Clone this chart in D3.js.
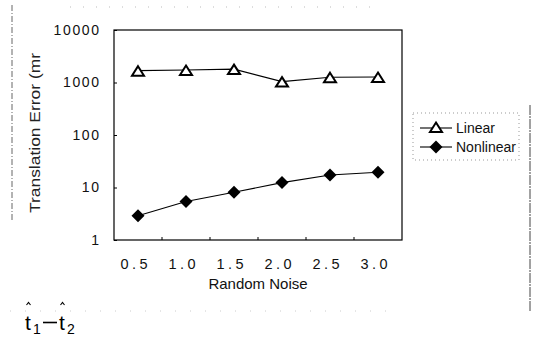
<!DOCTYPE html>
<html>
<head>
<meta charset="utf-8">
<script src="https://cdn.jsdelivr.net/npm/d3@7"></script>
<style>
  body { margin: 0; background: #fff; }
  svg { display: block; font-family: "Liberation Sans", Arial, sans-serif; }
</style>
</head>
<body>
<svg width="546" height="338"></svg>
<script>
// categories and series
var noise = ["0.5", "1.0", "1.5", "2.0", "2.5", "3.0"];
var linearErr = [1680, 1730, 1800, 1040, 1260, 1270];
var nonlinearErr = [2.9, 5.4, 8.1, 12.4, 17.3, 19.5];
var yTicks = [1, 10, 100, 1000, 10000];
var seriesNames = ["Linear", "Nonlinear"];

var svg = d3.select("svg");

// plot area
var plot = {left: 114, top: 30, right: 402, bottom: 240};

var x = d3.scaleBand().domain(noise).range([plot.left, plot.right]);
var y = d3.scaleLog().domain([1, 10000]).range([plot.bottom, plot.top]);

// markers: open triangle and filled diamond
var triPath = "M0,-5.5L6,4L-6,4Z";
var diaPath = "M0,-6.5L6.5,0L0,6.5L-6.5,0Z";

// scan artifacts from the source figure
svg.append("line").attr("x1", 12).attr("x2", 12).attr("y1", 5).attr("y2", 220)
    .attr("stroke", "#666").attr("stroke-dasharray", "6,2,1,2");
svg.append("line").attr("x1", 530).attr("x2", 530).attr("y1", 105).attr("y2", 311)
    .attr("stroke", "#444").attr("stroke-dasharray", "10,1,2,1");
svg.append("line").attr("x1", 70).attr("x2", 380).attr("y1", 7).attr("y2", 7)
    .attr("stroke", "#bbb").attr("stroke-dasharray", "1,12");
svg.append("line").attr("x1", 10).attr("x2", 400).attr("y1", 311).attr("y2", 311)
    .attr("stroke", "#ccc").attr("stroke-dasharray", "1,14");

// frame
svg.append("rect")
    .attr("x", plot.left).attr("y", plot.top)
    .attr("width", plot.right - plot.left).attr("height", plot.bottom - plot.top)
    .attr("fill", "none").attr("stroke", "#000").attr("stroke-width", 1.2);

// y axis (ticks point inside), digits spread like the scan
var yAxis = svg.append("g")
    .attr("transform", "translate(" + plot.left + ",0)")
    .call(d3.axisLeft(y).tickValues(yTicks).tickFormat(d3.format("d")).tickSize(-3).tickPadding(15));
yAxis.select(".domain").remove();
yAxis.selectAll(".tick line").attr("stroke", "#000");
yAxis.selectAll(".tick text")
    .attr("font-size", 14)
    .attr("fill", "#111")
    .each(function (d) {
        var n = String(d).length;
        if (n > 1) d3.select(this).attr("textLength", n * 9.4 - 1.6).attr("lengthAdjust", "spacing");
    });

// x axis, ticks between categories
var xAxis = svg.append("g")
    .attr("transform", "translate(0," + plot.bottom + ")")
    .call(d3.axisBottom(x).tickSize(0).tickPadding(19));
xAxis.select(".domain").remove();
xAxis.selectAll(".tick text")
    .attr("font-size", 14.5)
    .attr("fill", "#111")
    .attr("textLength", 27)
    .attr("lengthAdjust", "spacing")
    .attr("dx", -4);
svg.append("g").selectAll("line")
    .data(noise.slice(1))
    .enter().append("line")
    .attr("x1", function (d) { return x(d); })
    .attr("x2", function (d) { return x(d); })
    .attr("y1", plot.bottom).attr("y2", plot.bottom - 3)
    .attr("stroke", "#000");

// axis titles
svg.append("text")
    .attr("transform", "translate(40,133) rotate(-90)")
    .attr("text-anchor", "middle")
    .attr("font-size", 14)
    .attr("fill", "#222")
    .attr("textLength", 160)
    .attr("lengthAdjust", "spacingAndGlyphs")
    .text("Translation Error (mr");

svg.append("text")
    .attr("x", 258).attr("y", 289)
    .attr("text-anchor", "middle")
    .attr("font-size", 15)
    .attr("fill", "#111")
    .text("Random Noise");

var cx = function (d, i) { return x(noise[i]) + x.bandwidth() / 2; };

// Linear series
svg.append("path")
    .datum(linearErr)
    .attr("fill", "none").attr("stroke", "#000").attr("stroke-width", 1.1)
    .attr("d", d3.line().x(cx).y(function (d) { return y(d); }));
svg.append("g").selectAll("path")
    .data(linearErr)
    .enter().append("path")
    .attr("d", triPath)
    .attr("transform", function (d, i) { return "translate(" + cx(d, i) + "," + (y(d) + 1) + ")"; })
    .attr("fill", "#fff").attr("stroke", "#000").attr("stroke-width", 2);

// Nonlinear series
svg.append("path")
    .datum(nonlinearErr)
    .attr("fill", "none").attr("stroke", "#000").attr("stroke-width", 1.1)
    .attr("d", d3.line().x(cx).y(function (d) { return y(d); }));
svg.append("g").selectAll("path")
    .data(nonlinearErr)
    .enter().append("path")
    .attr("d", diaPath)
    .attr("transform", function (d, i) { return "translate(" + cx(d, i) + "," + y(d) + ")"; })
    .attr("fill", "#000");

// legend
var legend = svg.append("g").attr("transform", "translate(413,113)");
legend.append("rect")
    .attr("width", 106).attr("height", 47)
    .attr("fill", "none").attr("stroke", "#999").attr("stroke-dasharray", "1,3");
var item = legend.selectAll(".item")
    .data(seriesNames)
    .enter().append("g")
    .attr("class", "item")
    .attr("transform", function (d, i) { return "translate(0," + (15 + i * 19) + ")"; });
item.append("line")
    .attr("x1", 7).attr("x2", 39)
    .attr("stroke", "#000").attr("stroke-width", 1.1);
item.append("path")
    .attr("d", function (d, i) { return i === 0 ? triPath : diaPath; })
    .attr("transform", "translate(23,0)")
    .attr("fill", function (d, i) { return i === 0 ? "#fff" : "#000"; })
    .attr("stroke", "#000")
    .attr("stroke-width", function (d, i) { return i === 0 ? 2 : 0; });
item.append("text")
    .attr("x", 43).attr("dy", "0.35em")
    .attr("font-size", 14)
    .attr("fill", "#111")
    .text(function (d) { return d; });

// formula below the chart: t1 - t2 with hats
var formula = [
    {t: "t", x: 25, y: 330, s: 21},
    {t: "1", x: 33, y: 334, s: 14},
    {t: "t", x: 59, y: 330, s: 21},
    {t: "2", x: 67, y: 334, s: 14}
];
svg.selectAll(".formula")
    .data(formula)
    .enter().append("text")
    .attr("class", "formula")
    .attr("x", function (d) { return d.x; })
    .attr("y", function (d) { return d.y; })
    .attr("font-size", function (d) { return d.s; })
    .attr("fill", "#000")
    .text(function (d) { return d.t; });
svg.selectAll(".hat")
    .data([28.5, 62.5])
    .enter().append("path")
    .attr("class", "hat")
    .attr("d", function (d) { return "M" + (d - 2) + ",305L" + d + ",302.5L" + (d + 2) + ",305"; })
    .attr("fill", "none").attr("stroke", "#000").attr("stroke-width", 1.1);
svg.append("line")
    .attr("x1", 43).attr("x2", 57).attr("y1", 322.5).attr("y2", 322.5)
    .attr("stroke", "#000").attr("stroke-width", 1.6);
</script>
</body>
</html>
